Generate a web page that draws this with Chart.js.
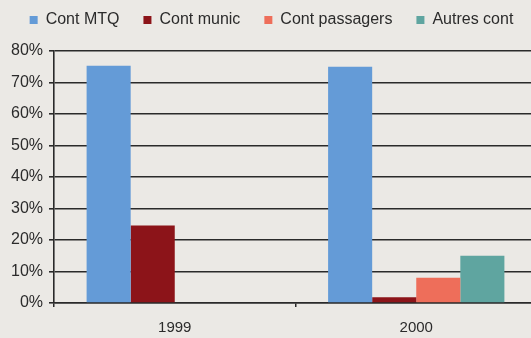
<!DOCTYPE html>
<html>
<head>
<meta charset="utf-8">
<script src="https://cdn.jsdelivr.net/npm/chart.js@4"></script>
<style>
html,body{margin:0;padding:0;background:#ebe9e5;overflow:hidden;width:531px;height:338px;}
#wrap{position:absolute;left:0;top:0;width:537px;height:338px;}
</style>
</head>
<body>
<div id="wrap"><canvas id="c"></canvas></div>
<script>
const categories = ["1999", "2000"];
const seriesNames = ["Cont MTQ", "Cont munic", "Cont passagers", "Autres cont"];
const contMTQ = [75.3, 75.0];
const contMunic = [24.6, 1.8];
const contPassagers = [0, 8.0];
const autresCont = [0, 15.0];
const yTicks = [0, 10, 20, 30, 40, 50, 60, 70, 80];

const colors = ["#649bd7", "#8c1419", "#ee6e5a", "#5fa5a0"];
const values = [contMTQ, contMunic, contPassagers, autresCont];

const FONT = "'Liberation Sans', Arial, sans-serif";
const TEXT = "#2b2b2b";

const legendShift = {
  id: 'legendShift',
  afterLayout(chart) {
    const l = chart.legend;
    if (!l) return;
    l.top -= 13; l.bottom -= 13;
    l.left += 3; l.right += 3;
  }
};

new Chart(document.getElementById('c'), {
  type: 'bar',
  data: {
    labels: categories,
    datasets: seriesNames.map((n, i) => ({
      label: n,
      data: values[i],
      backgroundColor: colors[i],
      borderWidth: 0,
      categoryPercentage: 0.73,
      barPercentage: 1.0
    }))
  },
  plugins: [legendShift],
  options: {
    responsive: true,
    maintainAspectRatio: false,
    animation: false,
    layout: { padding: { left: 0, right: 0, top: 1, bottom: 0 } },
    plugins: {
      tooltip: { enabled: false },
      legend: {
        display: true,
        position: 'top',
        labels: {
          boxWidth: 8,
          boxHeight: 8,
          padding: 24,
          color: TEXT,
          font: { family: FONT, size: 16 }
        }
      }
    },
    scales: {
      x: {
        grid: {
          display: true,
          offset: true,
          drawOnChartArea: false,
          drawTicks: true,
          tickLength: 4,
          color: '#2a2a2a',
          lineWidth: 1.5
        },
        border: { display: true, color: '#2a2a2a', width: 1.5 },
        ticks: { color: TEXT, font: { family: FONT, size: 15 }, padding: 12 },
        afterFit: s => { s.height = 35; }
      },
      y: {
        min: 0,
        max: 80,
        afterBuildTicks: s => { s.ticks = yTicks.map(v => ({ value: v })); },
        grid: {
          color: '#2a2a2a',
          lineWidth: 1.6,
          drawTicks: true,
          tickLength: 5
        },
        border: { display: true, color: '#2a2a2a', width: 1.6 },
        ticks: {
          color: TEXT,
          font: { family: FONT, size: 16 },
          padding: 6,
          callback: v => v + '%'
        },
        afterFit: s => { s.width = 54; }
      }
    }
  }
});
</script>
</body>
</html>
